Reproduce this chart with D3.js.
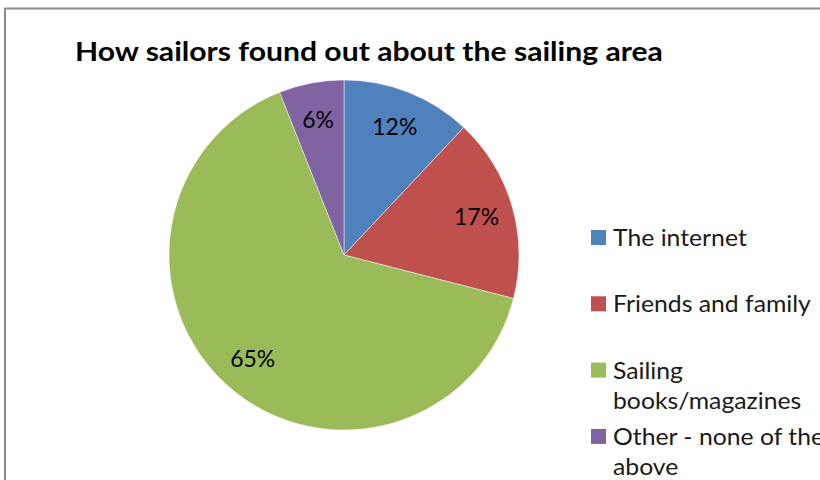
<!DOCTYPE html>
<html><head><meta charset="utf-8">
<script src="https://cdn.jsdelivr.net/npm/d3@7"></script>
<style>html,body{margin:0;padding:0;background:#fff;overflow:hidden}</style>
</head><body>
<svg id="chart" width="820" height="480"></svg>
<script>
const title = "How sailors found out about the sailing area";
const categories = ["The internet", "Friends and family", "Sailing books/magazines", "Other - none of the above"];
const values = [12, 17, 65, 6];
const valueLabels = ["12%", "17%", "65%", "6%"];
const legendLines = [["The internet"], ["Friends and family"], ["Sailing", "books/magazines"], ["Other - none of the", "above"]];
const colors = ["#4F81BD", "#C0504D", "#9BBB59", "#8064A2"];

const FONT = "Lato, 'Open Sans', sans-serif";
const svg = d3.select("#chart");
svg.append("rect").attr("width", 820).attr("height", 480).attr("fill", "#fff");
// chart area border (continues beyond the window)
svg.append("rect").attr("x", 5).attr("y", 8.5).attr("width", 900).attr("height", 600)
  .attr("fill", "none").attr("stroke", "#8c8c8c").attr("stroke-width", 2);

// helper: horizontally fit a text to a target width
function fitX(g, textSel, target) {
  const w = textSel.node().getComputedTextLength();
  return target / w;
}

// Title
const tg = svg.append("g").attr("transform", "translate(75,61)");
const tt = tg.append("text").attr("font-family", FONT).attr("font-weight", "bold")
  .attr("font-size", 26.5).attr("fill", "#000").text(title);
const tsx = fitX(tg, tt, 588);
tt.attr("transform", `scale(${tsx},1)`);

// Pie
const cx = 344, cy = 255, R = 175;
const pie = d3.pie().sort(null).value(d => d)(values);
const arc = d3.arc().innerRadius(0).outerRadius(R);
const labelArc = d3.arc().innerRadius(138).outerRadius(138);
const pg = svg.append("g").attr("transform", `translate(${cx},${cy})`);
pg.selectAll("path").data(pie).join("path")
  .attr("d", arc).attr("fill", (d, i) => colors[i])
  .attr("stroke", "#ffffff").attr("stroke-width", 0.8).attr("stroke-opacity", 0.6);

// value labels
const labelSize = 24;
const lg = pg.selectAll("g.lbl").data(pie).join("g").attr("class", "lbl")
  .attr("transform", d => { const c = labelArc.centroid(d); return `translate(${c[0]},${c[1]})`; });
const lt = lg.append("text").attr("font-family", FONT).attr("font-size", labelSize)
  .attr("text-anchor", "middle").attr("dy", "0.36em").attr("fill", "#000")
  .text((d, i) => valueLabels[i]);
const lsx = 45 / pg.select("g.lbl text").node().getComputedTextLength();
lt.attr("transform", `scale(${lsx},1)`);

// Legend
const legX = 591, textX = 613, firstBase = 246, itemStep = 66.3, lineH = 30;
const leg = svg.append("g");
const items = leg.selectAll("g.item").data(categories).join("g").attr("class", "item");
items.append("rect")
  .attr("x", legX).attr("y", (d, i) => firstBase + i * itemStep - 16)
  .attr("width", 15).attr("height", 15)
  .attr("fill", (d, i) => colors[i]);
const texts = items.append("g")
  .attr("transform", (d, i) => `translate(${textX},${firstBase + i * itemStep})`)
  .append("text").attr("font-family", FONT).attr("font-size", 24).attr("fill", "#1a1a1a");
texts.selectAll("tspan").data((d, i) => legendLines[i]).join("tspan")
  .attr("x", 0).attr("y", (d, j) => j * lineH).text(d => d);
// measure "Friends and family" for horizontal scale
const probe = svg.append("text").attr("font-family", FONT).attr("font-size", 24).text(legendLines[1][0]);
const legSx = 198 / probe.node().getComputedTextLength();
probe.remove();
texts.attr("transform", `scale(${legSx},1)`);
</script>
</body></html>
